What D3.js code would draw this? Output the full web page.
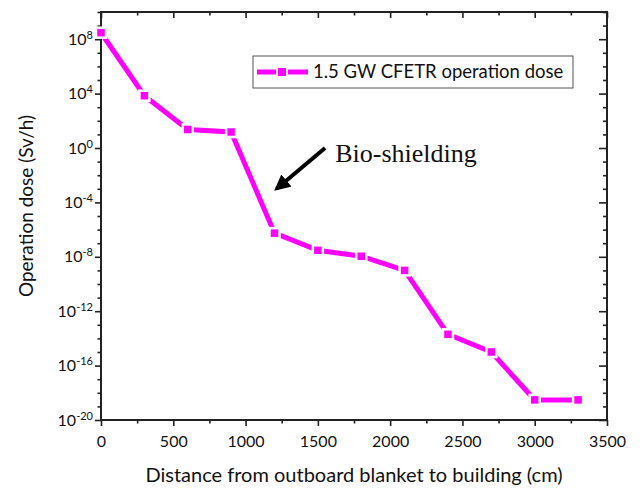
<!DOCTYPE html>
<html>
<head>
<meta charset="utf-8">
<script src="https://cdn.jsdelivr.net/npm/d3@7"></script>
<style>
  html, body { margin: 0; padding: 0; background: #fff; }
  svg text { font-family: Lato, "Open Sans", sans-serif; fill: #111; }
</style>
</head>
<body>
<div id="chart"></div>
<script>
(function(d3) {

  'use strict';

  // data
  var distance = [0, 300, 600, 900, 1200, 1500, 1800, 2100, 2400, 2700, 3000, 3300];
  var dose = [3e8, 7e3, 23, 15, 5.5e-7, 3e-8, 1.1e-8, 1e-9, 2e-14, 1e-15, 3e-19, 3e-19];

  var xTicks = [0, 500, 1000, 1500, 2000, 2500, 3000, 3500];
  var xMinor = [250, 750, 1250, 1750, 2250, 2750, 3250];
  var yExponents = [-20, -16, -12, -8, -4, 0, 4, 8];

  var seriesName = '1.5 GW CFETR operation dose';
  var note = { text: 'Bio-shielding', from: [1550, 1], to: [1215, 1e-3], label: [1620, 0.1] };

  var W = 640, H = 490;
  var box = { left: 101, right: 607, top: 12, bottom: 420 };
  var pink = '#ff00ff';

  var svg = d3.select('#chart').append('svg')
    .attr('width', W)
    .attr('height', H);

  var x = d3.scaleLinear().domain([0, 3500]).range([box.left, box.right]);
  var y = d3.scaleLog().domain([1e-20, 1e10]).range([box.bottom, box.top]);

  var decades = d3.range(-20, 11).filter(function(e) { return yExponents.indexOf(e) === -1; })
    .map(function(e) { return Math.pow(10, e); });
  var majors = yExponents.map(function(e) { return Math.pow(10, e); });

  function styleAxis(g) {
    g.select('.domain').remove();
    g.selectAll('line').attr('stroke', '#222').attr('stroke-width', 1.6);
  }

  // bottom axis, ticks outward
  svg.append('g')
    .attr('transform', 'translate(0,' + box.bottom + ')')
    .call(d3.axisBottom(x).tickValues(xTicks).tickSize(6).tickPadding(10).tickFormat(d3.format('d')))
    .call(styleAxis)
    .selectAll('text').style('font-size', '16px');
  svg.append('g')
    .attr('transform', 'translate(0,' + box.bottom + ')')
    .call(d3.axisBottom(x).tickValues(xMinor).tickSize(3.5).tickFormat(''))
    .call(styleAxis);

  // top axis, ticks inward
  svg.append('g')
    .attr('transform', 'translate(0,' + box.top + ')')
    .call(d3.axisBottom(x).tickValues(xTicks).tickSize(6).tickFormat(''))
    .call(styleAxis);
  svg.append('g')
    .attr('transform', 'translate(0,' + box.top + ')')
    .call(d3.axisBottom(x).tickValues(xMinor).tickSize(3.5).tickFormat(''))
    .call(styleAxis);

  // left axis, ticks outward
  var left = svg.append('g')
    .attr('transform', 'translate(' + box.left + ',0)')
    .call(d3.axisLeft(y).tickValues(majors).tickSize(6).tickFormat(''))
    .call(styleAxis);
  svg.append('g')
    .attr('transform', 'translate(' + box.left + ',0)')
    .call(d3.axisLeft(y).tickValues(decades).tickSize(3.5).tickFormat(''))
    .call(styleAxis);

  left.selectAll('.tick').each(function(d, i) {
    var t = d3.select(this).append('text')
      .attr('x', -8)
      .attr('dy', '0.32em')
      .attr('text-anchor', 'end')
      .style('font-size', '16px');
    t.append('tspan').text('10');
    t.append('tspan')
      .attr('dy', '-0.55em')
      .style('font-size', '11px')
      .text(yExponents[i]);
  });

  // right axis, ticks inward
  svg.append('g')
    .attr('transform', 'translate(' + box.right + ',0)')
    .call(d3.axisRight(y).tickValues(majors).tickSize(-8).tickFormat(''))
    .call(styleAxis);
  svg.append('g')
    .attr('transform', 'translate(' + box.right + ',0)')
    .call(d3.axisRight(y).tickValues(decades).tickSize(-4).tickFormat(''))
    .call(styleAxis);

  // frame
  svg.append('rect')
    .attr('x', box.left)
    .attr('y', box.top)
    .attr('width', box.right - box.left)
    .attr('height', box.bottom - box.top)
    .attr('fill', 'none')
    .attr('stroke', '#222')
    .attr('stroke-width', 2);

  // series
  var pts = distance.map(function(d, i) { return [d, dose[i]]; });

  svg.append('path')
    .datum(pts)
    .attr('fill', 'none')
    .attr('stroke', pink)
    .attr('stroke-width', 5)
    .attr('d', d3.line().x(function(d) { return x(d[0]); }).y(function(d) { return y(d[1]); }));

  svg.selectAll('rect.pt')
    .data(pts)
    .enter()
    .append('rect')
    .attr('class', 'pt')
    .attr('x', function(d) { return x(d[0]) - 5; })
    .attr('y', function(d) { return y(d[1]) - 5; })
    .attr('width', 10)
    .attr('height', 10)
    .attr('fill', pink)
    .attr('stroke', '#fff')
    .attr('stroke-width', 2.5);

  // annotation
  svg.append('defs').append('marker')
    .attr('id', 'head')
    .attr('viewBox', '0 0 10 10')
    .attr('refX', 8)
    .attr('refY', 5)
    .attr('markerWidth', 4)
    .attr('markerHeight', 4)
    .attr('orient', 'auto')
    .append('path')
    .attr('d', 'M0,0 L10,5 L0,10 Z')
    .attr('fill', '#000');

  svg.append('line')
    .attr('x1', x(note.from[0]))
    .attr('y1', y(note.from[1]))
    .attr('x2', x(note.to[0]))
    .attr('y2', y(note.to[1]))
    .attr('stroke', '#000')
    .attr('stroke-width', 4)
    .attr('marker-end', 'url(#head)');

  svg.append('text')
    .attr('x', x(note.label[0]))
    .attr('y', y(note.label[1]))
    .style('font-family', '"Liberation Serif", "Times New Roman", serif')
    .style('font-size', '26px')
    .text(note.text);

  // legend
  var lg = svg.append('g').attr('transform', 'translate(253,56)');
  lg.append('rect')
    .attr('width', 320)
    .attr('height', 32)
    .attr('fill', '#fff')
    .attr('stroke', '#555')
    .attr('stroke-width', 1);
  lg.append('line')
    .attr('x1', 4).attr('x2', 55)
    .attr('y1', 16).attr('y2', 16)
    .attr('stroke', pink)
    .attr('stroke-width', 5);
  lg.append('rect')
    .attr('x', 24).attr('y', 11)
    .attr('width', 10).attr('height', 10)
    .attr('fill', pink)
    .attr('stroke', '#fff')
    .attr('stroke-width', 2);
  lg.append('text')
    .attr('x', 60)
    .attr('y', 16)
    .attr('dy', '0.35em')
    .style('font-size', '18.5px')
    .text(seriesName);

  // axis titles
  svg.append('text')
    .attr('x', (box.left + box.right) / 2)
    .attr('y', 482)
    .attr('text-anchor', 'middle')
    .style('font-size', '20px')
    .text('Distance from outboard blanket to building (cm)');

  svg.append('text')
    .attr('transform', 'translate(33,206) rotate(-90)')
    .attr('text-anchor', 'middle')
    .style('font-size', '19px')
    .text('Operation dose (Sv/h)');

})(d3);
</script>
</body>
</html>
